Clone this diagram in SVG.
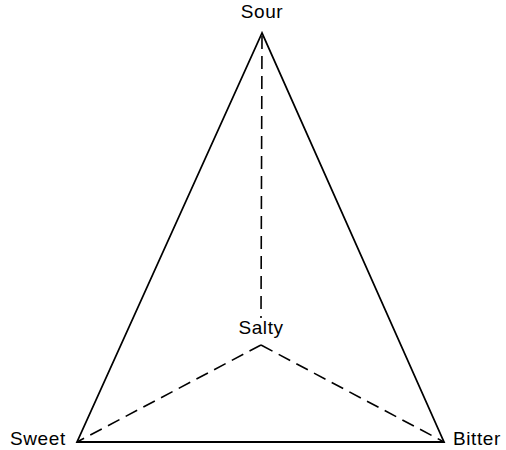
<svg xmlns="http://www.w3.org/2000/svg" width="506" height="450" viewBox="0 0 506 450">
<style>
.t{font-family:"Liberation Sans",Arial,sans-serif;font-size:19px;fill:#000;letter-spacing:0.6px}
.s{stroke:#000;stroke-width:1.8;fill:none}
.d{stroke:#000;stroke-width:1.6;fill:none;stroke-dasharray:13,7}
</style>
<rect width="506" height="450" fill="#fff"/>
<g id="connectors">
<path class="s" d="M262,33 L77,442 L444,442 Z"/>
<path class="d" d="M262,36 L261,318"/>
<path class="d" d="M261,345 L77,442"/>
<path class="d" d="M261,345 L444,442"/>
</g>
<g id="sour"><text class="t" x="262" y="18" text-anchor="middle">Sour</text></g>
<g id="salty"><text class="t" x="261" y="334" text-anchor="middle">Salty</text></g>
<g id="sweet"><text class="t" x="10" y="445">Sweet</text></g>
<g id="bitter"><text class="t" x="453" y="445">Bitter</text></g>
</svg>
